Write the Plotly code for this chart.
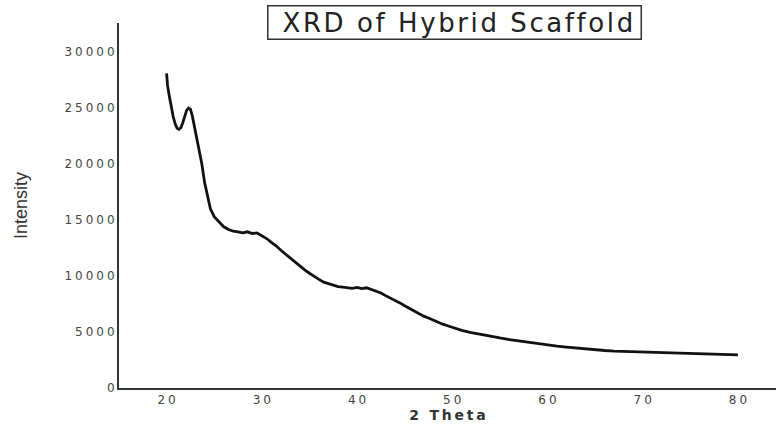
import plotly.graph_objects as go

two_theta = [20.0, 20.1, 20.3, 20.5, 20.7, 20.9, 21.1, 21.3, 21.5, 21.7, 21.9, 22.1, 22.3, 22.5,
             22.7, 22.9, 23.1, 23.3, 23.5, 23.7, 24.0, 24.3, 24.6, 25.0, 25.5, 26.0, 26.5, 27.0,
             27.5, 28.0, 28.5, 29.0, 29.5, 30.0, 30.5, 31.0, 31.5, 32.0, 32.5, 33.0, 33.5, 34.0,
             34.5, 35.0, 35.5, 36.0, 36.5, 37.0, 37.5, 38.0, 38.5, 39.0, 39.5, 40.0, 40.5, 41.0,
             41.5, 42.0, 42.5, 43.0, 43.5, 44.0, 44.5, 45.0, 45.5, 46.0, 46.5, 47.0, 47.5, 48.0,
             48.5, 49.0, 49.5, 50.0, 51, 52, 53, 54, 55, 56, 57, 58, 59, 60, 61, 62, 63, 64, 65,
             66, 67, 68, 69, 70, 71, 72, 73, 74, 75, 76, 77, 78, 79, 80]
intensity = [28100, 27000, 26000, 25000, 24200, 23600, 23200, 23100, 23250, 23700, 24300, 24800,
             25000, 24900, 24300, 23500, 22600, 21800, 21000, 20000, 18300, 17000, 16000, 15300,
             14800, 14400, 14150, 14000, 13950, 13850, 13950, 13800, 13850, 13600, 13350, 13000,
             12700, 12300, 11950, 11550, 11200, 10900, 10550, 10250, 9950, 9700, 9450, 9300, 9150,
             9050, 9000, 8950, 8900, 8980, 8880, 8950, 8800, 8650, 8480, 8250, 8050, 7850, 7600,
             7350, 7100, 6850, 6620, 6420, 6250, 6050, 5880, 5700, 5560, 5420, 5150, 4950, 4780,
             4600, 4470, 4330, 4200, 4080, 3960, 3850, 3740, 3650, 3560, 3470, 3400, 3350, 3300,
             3270, 3240, 3220, 3200, 3170, 3150, 3120, 3090, 3060, 3030, 3000, 2970, 2950]

x_ticks = [20, 30, 40, 50, 60, 70, 80]
y_ticks = [0, 5000, 10000, 15000, 20000, 25000, 30000]
QS = "\u2005"
TS = "\u2009"
HS = "\u200a"

def spaced(s, sep):
    return sep.join(list(s))

fig = go.Figure()
fig.add_trace(go.Scatter(x=two_theta, y=intensity, mode="lines",
                         line=dict(color="#111111", width=2.8), showlegend=False))

tick_font = dict(family="DejaVu Sans, Liberation Sans, sans-serif", size=12, color="#444444")
fig.update_layout(
    width=776, height=425,
    margin=dict(l=119, r=0, t=23, b=37),
    paper_bgcolor="white", plot_bgcolor="white",
    xaxis=dict(range=[15, 84], showgrid=False, zeroline=False, showline=True,
               linecolor="#333333", linewidth=2, ticks="", tickvals=x_ticks,
               ticktext=[spaced(str(v), QS) for v in x_ticks], tickfont=tick_font,
               title=dict(text=spaced("2 Theta", TS), standoff=3,
                          font=dict(family="DejaVu Sans, sans-serif", size=14,
                                    color="#333333", weight="bold"))),
    yaxis=dict(range=[0, 32600], showgrid=False, zeroline=False, showline=True,
               linecolor="#333333", linewidth=2, ticks="", tickvals=y_ticks,
               ticktext=[spaced(str(v), QS) for v in y_ticks], tickfont=tick_font,
               ticklabelstandoff=0,
               title=dict(text="Intensity", standoff=32,
                          font=dict(family="Liberation Sans Narrow, Liberation Sans, sans-serif",
                                    size=18, color="#333333"))),
    annotations=[dict(text="\u2002" + spaced("XRD of Hybrid Scaffold", HS) + "\u2005",
                      xref="paper", yref="paper",
                      x=0.51, y=1.0, xanchor="center", yanchor="middle", yshift=1,
                      showarrow=False, bordercolor="#333333", borderwidth=1.5,
                      borderpad=1, bgcolor="white",
                      font=dict(family="DejaVu Sans, sans-serif", size=26, color="#222222"))],
)
fig.write_html("out.html")
